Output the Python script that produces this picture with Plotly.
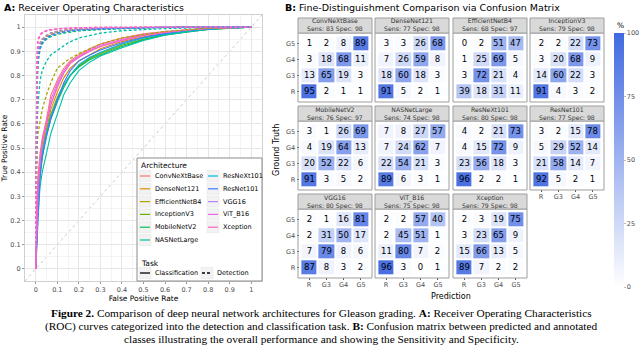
import plotly.graph_objects as go

W, H = 640, 347

ARCHS = ["ConvNeXtBase", "DenseNet121", "EfficientNetB4", "InceptionV3", "MobileNetV2",
         "NASNetLarge", "ResNeXt101", "ResNet101", "VGG16", "ViT_B16", "Xception"]
COLORS = ["#F8766D", "#DB8E00", "#AEA200", "#64B200", "#00BD5C", "#00C1A7",
          "#00BADE", "#3D7BFF", "#B385FF", "#EF67EB", "#FF63B6"]

# ROC, classification task (solid)
CLS_FPR = [0, 0.005, 0.01, 0.02, 0.03, 0.05, 0.07, 0.1, 0.13, 0.16, 0.2, 0.25,
           0.3, 0.4, 0.5, 0.6, 0.7, 0.8, 0.9, 1.0]
CLS_TPR = [
    [0, 0.28, 0.38, 0.48, 0.54, 0.62, 0.72, 0.78, 0.83, 0.86, 0.885, 0.91, 0.93, 0.955, 0.972, 0.982, 0.99, 0.995, 0.998, 1],
    [0, 0.20, 0.30, 0.42, 0.50, 0.58, 0.66, 0.73, 0.79, 0.83, 0.86, 0.885, 0.91, 0.94, 0.96, 0.975, 0.985, 0.993, 0.997, 1],
    [0, 0.15, 0.26, 0.38, 0.46, 0.56, 0.63, 0.70, 0.76, 0.80, 0.84, 0.87, 0.895, 0.93, 0.955, 0.972, 0.984, 0.992, 0.997, 1],
    [0, 0.22, 0.30, 0.40, 0.48, 0.57, 0.64, 0.71, 0.76, 0.80, 0.84, 0.87, 0.89, 0.925, 0.95, 0.97, 0.982, 0.99, 0.996, 1],
    [0, 0.18, 0.28, 0.40, 0.47, 0.55, 0.62, 0.69, 0.75, 0.80, 0.835, 0.865, 0.885, 0.92, 0.948, 0.968, 0.98, 0.99, 0.996, 1],
    [0, 0.12, 0.22, 0.34, 0.40, 0.48, 0.56, 0.64, 0.72, 0.77, 0.82, 0.855, 0.88, 0.915, 0.945, 0.966, 0.98, 0.99, 0.996, 1],
    [0, 0.20, 0.30, 0.40, 0.48, 0.56, 0.63, 0.70, 0.76, 0.80, 0.845, 0.875, 0.895, 0.93, 0.955, 0.972, 0.984, 0.992, 0.997, 1],
    [0, 0.10, 0.25, 0.38, 0.46, 0.55, 0.62, 0.70, 0.77, 0.82, 0.86, 0.885, 0.905, 0.935, 0.958, 0.974, 0.986, 0.993, 0.997, 1],
    [0, 0.25, 0.33, 0.45, 0.52, 0.60, 0.68, 0.76, 0.81, 0.85, 0.875, 0.90, 0.92, 0.945, 0.965, 0.978, 0.988, 0.994, 0.998, 1],
    [0, 0.30, 0.36, 0.46, 0.53, 0.61, 0.70, 0.77, 0.82, 0.855, 0.88, 0.905, 0.925, 0.95, 0.968, 0.98, 0.989, 0.995, 0.998, 1],
    [0, 0.18, 0.32, 0.44, 0.52, 0.60, 0.68, 0.75, 0.81, 0.85, 0.875, 0.90, 0.92, 0.945, 0.965, 0.978, 0.988, 0.994, 0.998, 1],
]

# ROC, detection task (dashed)
DET_FPR = [0, 0.002, 0.005, 0.01, 0.02, 0.03, 0.05, 0.07, 0.1, 0.15, 0.2, 0.3, 0.4, 0.5, 0.6, 0.8, 1.0]
DET_TPR = [
    [0, 0.50, 0.80, 0.90, 0.935, 0.95, 0.965, 0.975, 0.983, 0.99, 0.993, 0.996, 0.998, 0.999, 1, 1, 1],
    [0, 0.45, 0.75, 0.88, 0.925, 0.945, 0.96, 0.97, 0.978, 0.986, 0.99, 0.994, 0.997, 0.998, 0.999, 1, 1],
    [0, 0.40, 0.50, 0.56, 0.62, 0.66, 0.72, 0.77, 0.83, 0.865, 0.89, 0.93, 0.955, 0.97, 0.982, 0.995, 1],
    [0, 0.48, 0.78, 0.89, 0.93, 0.95, 0.965, 0.975, 0.982, 0.988, 0.992, 0.995, 0.997, 0.999, 1, 1, 1],
    [0, 0.42, 0.70, 0.85, 0.91, 0.93, 0.95, 0.96, 0.97, 0.978, 0.984, 0.99, 0.994, 0.997, 0.999, 1, 1],
    [0, 0.35, 0.55, 0.68, 0.78, 0.82, 0.86, 0.885, 0.905, 0.935, 0.955, 0.975, 0.985, 0.99, 0.994, 0.998, 1],
    [0, 0.45, 0.72, 0.86, 0.91, 0.935, 0.955, 0.965, 0.974, 0.982, 0.987, 0.992, 0.995, 0.997, 0.999, 1, 1],
    [0, 0.50, 0.76, 0.87, 0.915, 0.935, 0.955, 0.966, 0.975, 0.983, 0.988, 0.993, 0.996, 0.998, 0.999, 1, 1],
    [0, 0.50, 0.80, 0.90, 0.935, 0.95, 0.965, 0.975, 0.982, 0.988, 0.992, 0.995, 0.997, 0.999, 1, 1, 1],
    [0, 0.60, 0.88, 0.95, 0.97, 0.978, 0.986, 0.99, 0.993, 0.996, 0.998, 0.999, 1, 1, 1, 1, 1],
    [0, 0.55, 0.85, 0.94, 0.965, 0.975, 0.984, 0.988, 0.992, 0.995, 0.997, 0.999, 1, 1, 1, 1, 1],
]

ROC_TICKS = [0, 0.1, 0.2, 0.3, 0.4, 0.5, 0.6, 0.7, 0.8, 0.9, 1]
ROC_TICKTEXT = ["0", "0.1", "0.2", "0.3", "0.4", "0.5", "0.6", "0.7", "0.8", "0.9", "1"]

# confusion matrices, rows = ground truth (R, G3, G4, G5), cols = prediction
CLASSES = ["R", "G3", "G4", "G5"]
SENS = [83, 77, 68, 79, 76, 74, 80, 77, 80, 75, 79]
SPEC = [98, 98, 97, 98, 97, 98, 98, 98, 98, 98, 98]
CMS = [
    [[95, 2, 1, 1], [13, 65, 19, 3], [3, 18, 68, 11], [1, 2, 8, 89]],
    [[91, 5, 2, 1], [18, 60, 18, 3], [7, 26, 59, 8], [3, 3, 26, 68]],
    [[39, 18, 31, 11], [3, 72, 21, 4], [1, 25, 69, 5], [0, 2, 51, 47]],
    [[91, 4, 3, 2], [14, 60, 22, 3], [3, 20, 68, 9], [2, 2, 22, 73]],
    [[91, 3, 5, 2], [20, 52, 22, 6], [4, 19, 64, 13], [3, 1, 26, 69]],
    [[89, 6, 3, 1], [22, 54, 21, 3], [7, 24, 62, 7], [7, 8, 27, 57]],
    [[96, 2, 2, 1], [23, 56, 18, 3], [4, 15, 72, 9], [4, 2, 21, 73]],
    [[92, 5, 2, 1], [21, 58, 14, 7], [5, 29, 52, 14], [3, 2, 15, 78]],
    [[87, 8, 3, 2], [7, 79, 8, 6], [2, 31, 50, 17], [2, 1, 16, 81]],
    [[96, 3, 0, 1], [11, 80, 7, 2], [2, 45, 51, 1], [2, 2, 57, 40]],
    [[89, 7, 2, 2], [15, 66, 13, 5], [3, 23, 65, 9], [2, 3, 19, 75]],
]
CBAR_TICKS = [0, 25, 50, 75, 100]

CAPTION = [
    "<b>Figure 2.</b> Comparison of deep neural network architectures for Gleason grading. "
    "<b>A:</b> Receiver Operating Characteristics",
    "(ROC) curves categorized into the detection and classification task. "
    "<b>B:</b> Confusion matrix between predicted and annotated",
    "classes illustrating the overall performance and showing the Sensitivity and Specificity.",
]


def px(x):
    return x / W


def py(y):
    return 1 - y / H


def note(text, x, y, size, **kw):
    d = dict(text=text, x=px(x), y=py(y), xref="paper", yref="paper", showarrow=False,
             xanchor="left", yanchor="middle", font=dict(size=size, color="black"))
    d.update(kw)
    return d


GREY_TXT = "#4D4D4D"
fig = go.Figure()
shapes, annos = [], []

# ---- panel A: ROC ----
for color, tpr in zip(COLORS, CLS_TPR):
    fig.add_trace(go.Scatter(x=CLS_FPR, y=tpr, mode="lines", showlegend=False,
                             line=dict(color=color, width=1.1), hoverinfo="skip"))
for color, tpr in zip(COLORS, DET_TPR):
    fig.add_trace(go.Scatter(x=DET_FPR, y=tpr, mode="lines", showlegend=False,
                             line=dict(color=color, width=1.3, dash="3px,2px"), hoverinfo="skip"))

shapes.append(dict(type="line", xref="x", yref="y", x0=-0.05, y0=-0.05, x1=1.05, y1=1.05,
                   line=dict(color="#BDBDBD", width=0.8, dash="dot"), layer="below"))

roc_axis = dict(range=[-0.05, 1.05], tickvals=ROC_TICKS, ticktext=ROC_TICKTEXT,
                showgrid=True, gridcolor="#E6E6E6", gridwidth=1, zeroline=False,
                minor=dict(dtick=0.05, showgrid=True, gridcolor="#F3F3F3"),
                ticks="outside", ticklen=2, tickcolor="#999", automargin=False,
                tickfont=dict(size=6.5, color=GREY_TXT),
                showline=True, linecolor="#D0D0D0", mirror=True)
xa = dict(roc_axis, domain=[px(25), px(262)], anchor="y",
          title=dict(text="False Positive Rate", font=dict(size=7.5, color="black"), standoff=1))
ya = dict(roc_axis, domain=[py(281), py(15)], anchor="x",
          title=dict(text="True Positive Rate", font=dict(size=7.5, color="black"), standoff=3))

# legend box (drawn by hand so it fits two columns like the original)
shapes.append(dict(type="rect", xref="paper", yref="paper", x0=px(137), x1=px(262),
                   y0=py(281), y1=py(158), fillcolor="white", line=dict(color="#8C8C8C", width=1)))
annos.append(note("Architecture", 139, 166, 7.5))
for i, (name, color) in enumerate(zip(ARCHS, COLORS)):
    col, row = divmod(i, 6)
    kx = 139 + col * 68
    ky = 176 + row * 12.8
    shapes.append(dict(type="rect", xref="paper", yref="paper", x0=px(kx), x1=px(kx + 12),
                       y0=py(ky + 5.5), y1=py(ky - 5.5), fillcolor="#F2F2F2",
                       line=dict(color="#E0E0E0", width=0.5)))
    shapes.append(dict(type="line", xref="paper", yref="paper", x0=px(kx + 1), x1=px(kx + 11),
                       y0=py(ky), y1=py(ky), line=dict(color=color, width=1.2)))
    annos.append(note(name, kx + 14, ky, 6.5))
annos.append(note("Task", 139, 263, 7.5))
for kx, label, dash in [(139, "Classification", "solid"), (201, "Detection", "3px,2px")]:
    shapes.append(dict(type="rect", xref="paper", yref="paper", x0=px(kx), x1=px(kx + 12),
                       y0=py(278.5), y1=py(267.5), fillcolor="#F2F2F2",
                       line=dict(color="#E0E0E0", width=0.5)))
    shapes.append(dict(type="line", xref="paper", yref="paper", x0=px(kx + 1), x1=px(kx + 11),
                       y0=py(273), y1=py(273), line=dict(color="black", width=1.3, dash=dash)))
    annos.append(note(label, kx + 14, 273, 6.5))

# ---- panel B: confusion matrices ----
COL_X = [(298, 372), (375, 449), (453, 527), (530, 604)]
ROW_Y = [18, 106, 194]
layout_axes = {}
for i, (name, cm) in enumerate(zip(ARCHS, CMS)):
    r, c = divmod(i, 4)
    k = i + 2
    x0, x1 = COL_X[c]
    st = ROW_Y[r]
    sb = st + 15
    mb = st + 84
    fig.add_trace(go.Heatmap(z=cm, x=CLASSES, y=CLASSES, xaxis=f"x{k}", yaxis=f"y{k}",
                             coloraxis="coloraxis", xgap=2, ygap=2, texttemplate="%{z}",
                             textfont=dict(size=8.5, color="black"), hoverinfo="skip"))
    bottom = i >= 7
    left = c == 0
    layout_axes[f"xaxis{k}"] = dict(domain=[px(x0 + 1.5), px(x1 - 1.5)], anchor=f"y{k}",
                                    range=[-0.55, 3.55], showgrid=False, zeroline=False,
                                    showticklabels=bottom, ticks="outside" if bottom else "",
                                    ticklen=2, tickcolor="#555", automargin=False,
                                    tickfont=dict(size=6.5, color=GREY_TXT))
    layout_axes[f"yaxis{k}"] = dict(domain=[py(mb - 1.5), py(sb + 1.5)], anchor=f"x{k}",
                                    range=[-0.55, 3.55], showgrid=False, zeroline=False,
                                    showticklabels=left, ticks="outside" if left else "",
                                    ticklen=2, tickcolor="#555", automargin=False,
                                    tickfont=dict(size=6.5, color=GREY_TXT))
    shapes.append(dict(type="rect", xref="paper", yref="paper", x0=px(x0), x1=px(x1),
                       y0=py(mb), y1=py(sb), line=dict(color="#9E9E9E", width=1)))
    shapes.append(dict(type="rect", xref="paper", yref="paper", x0=px(x0), x1=px(x1),
                       y0=py(sb), y1=py(st), fillcolor="#D9D9D9",
                       line=dict(color="#9E9E9E", width=1)))
    annos.append(note(f"{name}<br>Sens: {SENS[i]} Spec: {SPEC[i]}", (x0 + x1) / 2, st + 7.5, 6.2,
                      xanchor="center", font=dict(size=6.2, color="#333333")))

annos += [
    note("Ground Truth", 276, 150, 8, xanchor="center", textangle=-90),
    note("Prediction", 451, 296, 8, xanchor="center"),
    note("<b>A:</b> Receiver Operating Characteristics", 2, 8, 9.5),
    note("<b>B:</b> Fine-Distinguishment Comparison via Confusion Matrix", 283, 8, 9.5),
    note("%", 615, 26, 7.5),
]
for line_no, text in enumerate(CAPTION):
    annos.append(note(text, 321, 313 + 13 * line_no, 11.3, xanchor="center",
                      font=dict(family="Liberation Serif", size=11.3, color="black")))

fig.update_layout(
    width=W, height=H, margin=dict(l=0, r=0, t=0, b=0),
    paper_bgcolor="white", plot_bgcolor="white",
    font=dict(family="DejaVu Sans", color="black"),
    showlegend=False,
    xaxis=xa, yaxis=ya, **layout_axes,
    coloraxis=dict(colorscale=[[0, "#FFFFFF"], [1, "#4169E1"]], cmin=0, cmax=100,
                   colorbar=dict(x=px(614), xanchor="left", y=py(160), yanchor="middle",
                                 len=254 / H, thickness=10, outlinewidth=0, xpad=0, ypad=0,
                                 tickvals=CBAR_TICKS, ticks="outside", ticklen=2,
                                 tickcolor="#BBBBBB", tickfont=dict(size=6.5, color=GREY_TXT))),
    shapes=shapes, annotations=annos,
)

# the page's default body margin would shift the 640x347 figure out of the window
fig.write_html("out.html", config={"displayModeBar": False},
               post_script="document.body.style.margin='0px';")
